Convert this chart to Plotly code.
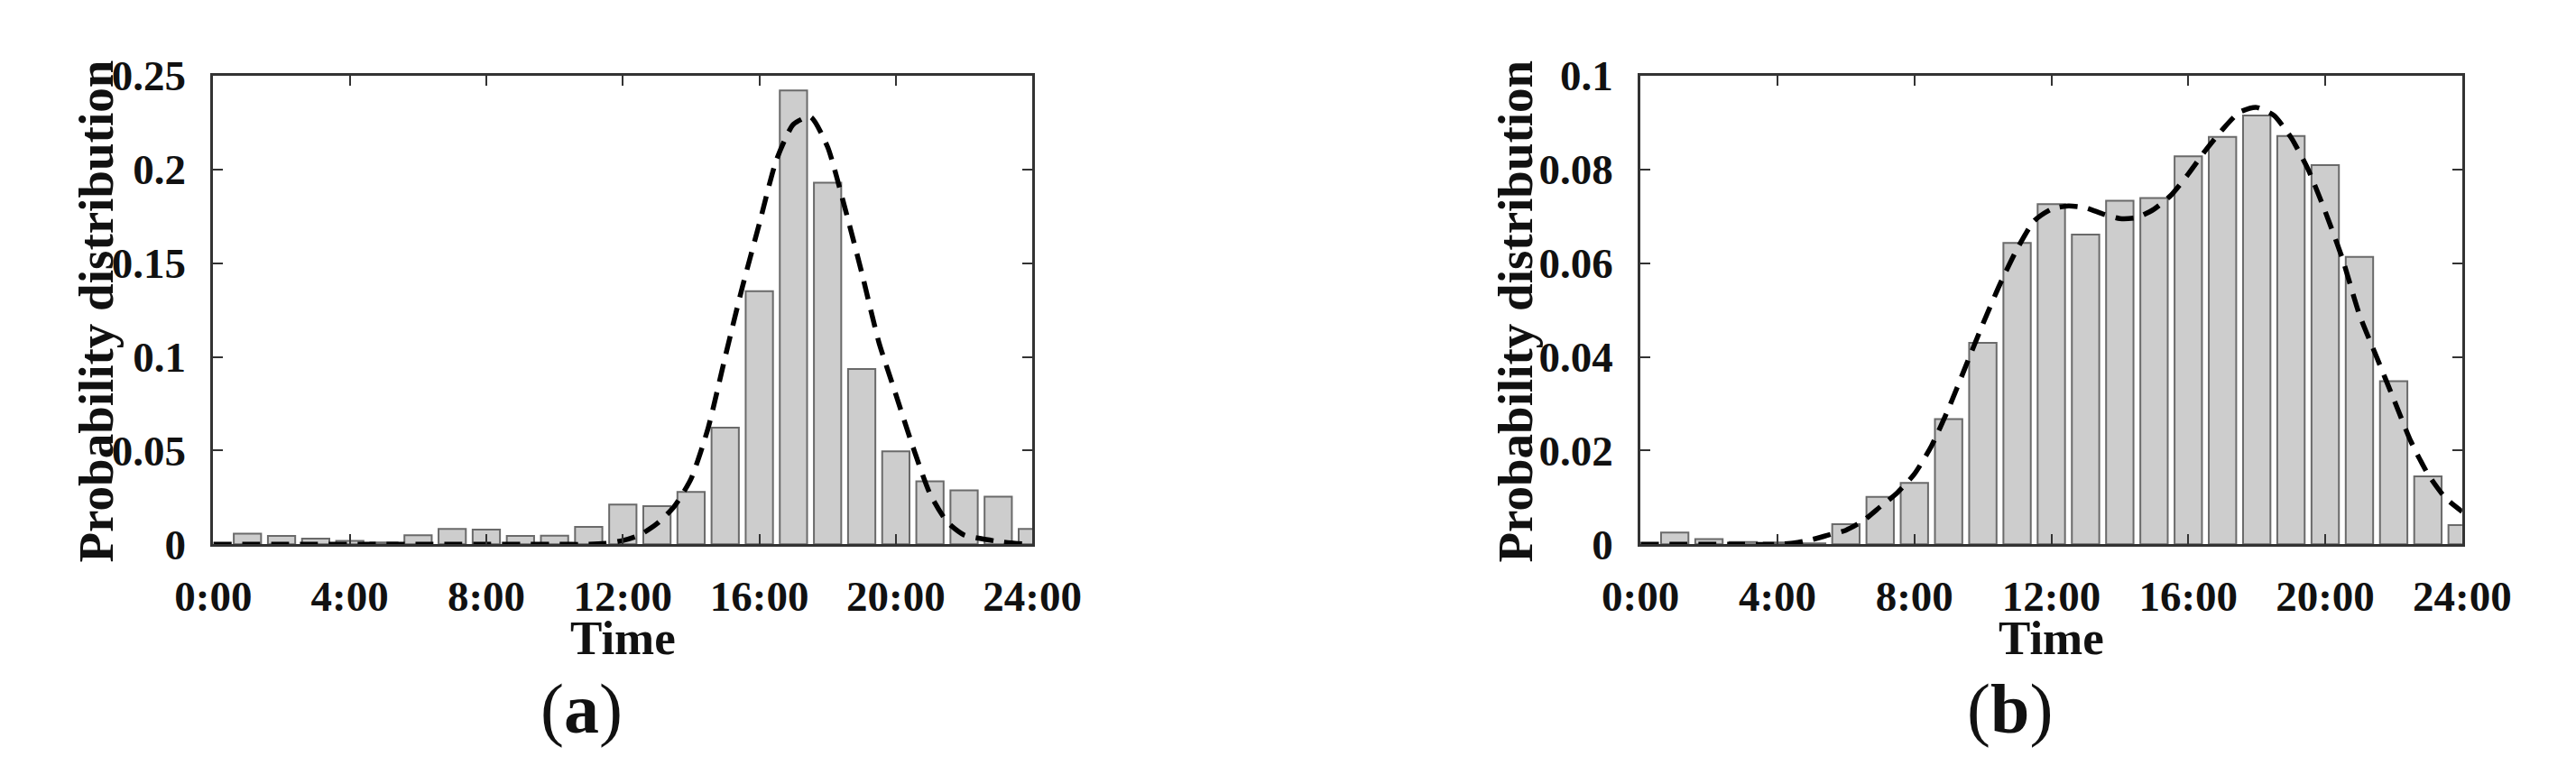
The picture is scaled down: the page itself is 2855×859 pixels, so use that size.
import plotly.graph_objects as go

W, H = 2855, 859

HOURS = list(range(1, 25))

# panel (a): bars and fitted curve
PROB_A = [
    0.0057, 0.0045, 0.0030, 0.0018, 0.0010, 0.0048, 0.0082, 0.0078,
    0.0045, 0.0046, 0.0093, 0.0212, 0.0204, 0.0280, 0.0622, 0.1350,
    0.2421, 0.1929, 0.0935, 0.0496, 0.0336, 0.0288, 0.0254, 0.0082,
]
FIT_A_X = [
    0, 1, 2, 3, 4, 5, 6, 7, 8, 9, 10, 11, 11.5, 12, 12.5, 13, 13.5, 14,
    14.5, 15, 15.5, 16, 16.5, 17, 17.5, 18, 18.5, 19, 19.5, 20, 20.5, 21,
    21.5, 22, 22.5, 23, 23.5, 24,
]
FIT_A_Y = [
    0, 0, 0, 0, 0, 0, 0, 0, 0, 0, 0, 0, 0.0005, 0.002, 0.005, 0.011, 0.020,
    0.035, 0.062, 0.100, 0.137, 0.171, 0.205, 0.224, 0.228, 0.212, 0.180,
    0.145, 0.108, 0.080, 0.052, 0.027, 0.012, 0.005, 0.003, 0.0015, 0.0005, 0,
]

# panel (b)
PROB_B = [
    0.0025, 0.0011, 0.0005, 0.0004, 0.0002, 0.0043, 0.0101, 0.0131,
    0.0267, 0.0430, 0.0643, 0.0726, 0.0661, 0.0733, 0.0739, 0.0828,
    0.0869, 0.0915, 0.0871, 0.0809, 0.0613, 0.0348, 0.0145, 0.0041,
]
FIT_B_X = [
    0, 1, 2, 3, 4, 4.5, 5, 5.5, 6, 6.5, 7, 7.5, 8, 8.5, 9, 9.5, 10, 10.5,
    11, 11.5, 12, 12.5, 13, 13.5, 14, 14.5, 15, 15.5, 16, 16.5, 17, 17.5,
    18, 18.5, 19, 19.5, 20, 20.5, 21, 21.5, 22, 22.5, 23, 23.5, 24,
]
FIT_B_Y = [
    0, 0, 0, 0, 0, 0.0003, 0.001, 0.002, 0.003, 0.005, 0.008, 0.011, 0.015,
    0.021, 0.029, 0.038, 0.047, 0.0555, 0.063, 0.069, 0.0715, 0.0722,
    0.0718, 0.0705, 0.0695, 0.0697, 0.0715, 0.0745, 0.079, 0.084, 0.0885,
    0.0922, 0.0932, 0.0915, 0.0868, 0.080, 0.071, 0.061, 0.049, 0.040,
    0.031, 0.022, 0.015, 0.010, 0.007,
]

X_TICKS = [0, 4, 8, 12, 16, 20, 24]
X_LABELS = ["0:00", "4:00", "8:00", "12:00", "16:00", "20:00", "24:00"]
Y_TICKS_A = [0, 0.05, 0.1, 0.15, 0.2, 0.25]
Y_LABELS_A = ["0", "0.05", "0.1", "0.15", "0.2", "0.25"]
Y_TICKS_B = [0, 0.02, 0.04, 0.06, 0.08, 0.1]
Y_LABELS_B = ["0", "0.02", "0.04", "0.06", "0.08", "0.1"]

SERIF = "Liberation Serif"
BAR_FILL = "#cdcdcd"
BAR_EDGE = "#6a6a6a"
FRAME = "#333333"

# pixel frames of the two panels
A_LEFT, A_RIGHT = 192, 1132
B_LEFT, B_RIGHT = 1830, 2773
TOP, BOTTOM = 53, 606


def px_x(x):
    return x / W


def px_y(y):
    return 1 - y / H


fig = go.Figure()

for xa, ya, probs, fx, fy in [
    ("x", "y", PROB_A, FIT_A_X, FIT_A_Y),
    ("x2", "y2", PROB_B, FIT_B_X, FIT_B_Y),
]:
    fig.add_trace(go.Bar(
        x=HOURS, y=probs, width=0.8, xaxis=xa, yaxis=ya,
        marker={"color": BAR_FILL, "line": {"color": BAR_EDGE, "width": 2}},
        showlegend=False,
    ))
    fig.add_trace(go.Scatter(
        x=fx, y=fy, mode="lines", xaxis=xa, yaxis=ya,
        line={"color": "black", "width": 5.5, "dash": "20px,12px",
              "shape": "spline", "smoothing": 0.6},
        showlegend=False,
    ))

axis_common = dict(
    showline=True, mirror="ticks", linecolor=FRAME, linewidth=3,
    ticks="inside", ticklen=11, tickwidth=2, tickcolor=FRAME,
    showgrid=False, zeroline=False,
    tickfont={"family": SERIF, "size": 47, "color": "#111", "weight": "bold"},
)

fig.update_layout(
    width=W, height=H, autosize=False,
    margin={"l": 0, "r": 0, "t": 0, "b": 0},
    plot_bgcolor="white", paper_bgcolor="white",
    bargap=0.2,
    xaxis={**axis_common, "domain": [px_x(A_LEFT), px_x(A_RIGHT)],
           "range": [0, 24], "tickvals": X_TICKS, "ticktext": X_LABELS,
           "anchor": "y", "ticklabelstandoff": 14},
    yaxis={**axis_common, "domain": [px_y(BOTTOM), px_y(TOP)],
           "range": [0, 0.25], "tickvals": Y_TICKS_A, "ticktext": Y_LABELS_A,
           "anchor": "x", "ticklabelstandoff": 18},
    xaxis2={**axis_common, "domain": [px_x(B_LEFT), px_x(B_RIGHT)],
            "range": [0, 24], "tickvals": X_TICKS, "ticktext": X_LABELS,
            "anchor": "y2", "ticklabelstandoff": 14},
    yaxis2={**axis_common, "domain": [px_y(BOTTOM), px_y(TOP)],
            "range": [0, 0.1], "tickvals": Y_TICKS_B, "ticktext": Y_LABELS_B,
            "anchor": "x2", "ticklabelstandoff": 18},
)

title_font = {"family": SERIF, "size": 53, "color": "#111", "weight": "bold"}
ylab_font = {"family": SERIF, "size": 55, "color": "#111", "weight": "bold"}
tag_font = {"family": SERIF, "size": 78, "color": "#111"}

annotations = []
for left, right, ylab_x, tag, tag_x in [
    (A_LEFT, A_RIGHT, 57, "(<b>a</b>)", 615),
    (B_LEFT, B_RIGHT, 1686, "(<b>b</b>)", 2254),
]:
    annotations.append(dict(
        text="Time", x=px_x((left + right) / 2), y=px_y(716),
        xref="paper", yref="paper", xanchor="center", yanchor="middle",
        showarrow=False, font=title_font,
    ))
    annotations.append(dict(
        text="Probability distribution", x=px_x(ylab_x),
        y=px_y((TOP + BOTTOM) / 2 + 2), xref="paper", yref="paper",
        xanchor="center", yanchor="middle", textangle=-90,
        showarrow=False, font=ylab_font,
    ))
    annotations.append(dict(
        text=tag, x=px_x(tag_x), y=px_y(800), xref="paper", yref="paper",
        xanchor="center", yanchor="middle", showarrow=False, font=tag_font,
    ))

fig.update_layout(annotations=annotations)

fig.write_html("out.html")
